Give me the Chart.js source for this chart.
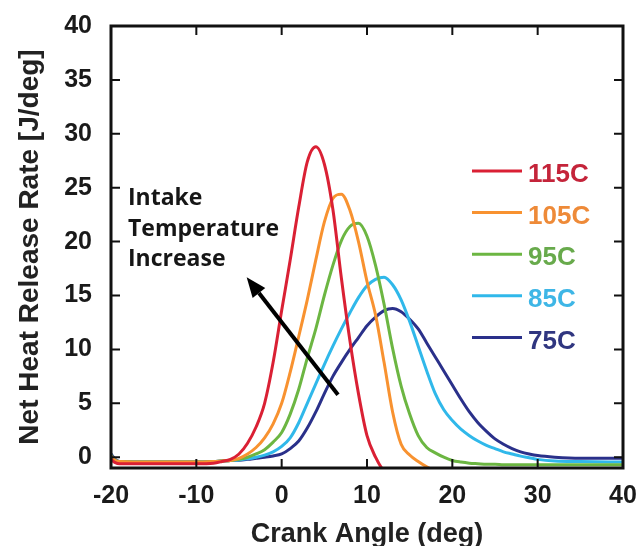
<!DOCTYPE html>
<html>
<head>
<meta charset="utf-8">
<script src="https://cdn.jsdelivr.net/npm/chart.js@4.4.1/dist/chart.umd.min.js"></script>
<style>
  html, body { margin: 0; padding: 0; background: #fff; }
  #wrap { width: 644px; height: 546px; }
</style>
</head>
<body>
<div id="wrap"><canvas id="hrrChart" width="644" height="546"></canvas></div>
<script>
// crank angle (deg), shared by all runs
const angles = [-20, -19.5, -19, -15, -10, -8, -7, -6, -5, -4, -3, -2, -1, 0, 1, 2, 3, 4, 5, 6, 7, 8, 9, 10,
    11, 12, 13, 14, 15, 16, 17, 18, 19, 20, 21, 22, 23, 24, 25, 26, 27, 28, 29, 30, 32, 35, 40];

// net heat release rate [J/deg] per intake temperature
const hrr115 = [-0.2, -0.5, -0.6, -0.6, -0.6, -0.55, -0.4, -0.2, 0.3, 1.3, 2.8, 5.0, 8.8, 13.6, 18.3, 23.2, 27.4, 28.8,
    27.2, 23.0, 16.6, 10.8, 5.9, 2.0, 0.0, -1.3, -1.8, -2, -2, -2, -2, -2, -2, -2, -2, -2, -2, -2, -2, -2, -2, -2,
    -2, -2, -2, -2, -2];
const hrr105 = [0.1, -0.3, -0.4, -0.45, -0.45, -0.4, -0.35, -0.3, -0.1, 0.3, 0.9, 1.8, 3.1, 5.0, 7.9, 11.2, 14.6, 18.3,
    21.8, 24.0, 24.4, 22.9, 20.0, 16.3, 13.2, 8.8, 4.2, 1.2, 0.2, -0.4, -0.9, -1.3, -1.5, -1.5, -1.5, -1.5, -1.5,
    -1.5, -1.5, -1.5, -1.5, -1.5, -1.5, -1.5, -1.5, -1.5, -1.5];
const hrr95 = [0.2, -0.3, -0.4, -0.45, -0.45, -0.4, -0.35, -0.3, -0.2, 0.0, 0.3, 0.7, 1.4, 2.3, 4.0, 6.3, 9.2, 11.9,
    15.0, 17.8, 20.1, 21.4, 21.7, 20.5, 17.8, 14.2, 10.1, 6.6, 4.0, 2.0, 0.9, 0.4, 0.0, -0.3, -0.45, -0.55, -0.6,
    -0.65, -0.65, -0.7, -0.7, -0.7, -0.7, -0.7, -0.7, -0.7, -0.7];
const hrr85 = [0.2, -0.3, -0.4, -0.45, -0.45, -0.4, -0.35, -0.3, -0.25, -0.15, 0.0, 0.2, 0.5, 1.0, 1.8, 3.2, 5.0, 6.8,
    8.6, 10.3, 11.9, 13.4, 14.8, 15.9, 16.5, 16.7, 16.0, 14.6, 12.6, 10.3, 8.0, 5.9, 4.4, 3.4, 2.6, 2.0, 1.5, 1.1,
    0.8, 0.5, 0.3, 0.1, -0.05, -0.2, -0.35, -0.4, -0.45];
const hrr75 = [0.3, -0.2, -0.4, -0.45, -0.45, -0.4, -0.35, -0.3, -0.28, -0.2, -0.1, 0.0, 0.12, 0.3, 0.8, 1.5, 2.7, 4.2,
    5.9, 7.5, 8.8, 10.0, 11.1, 12.2, 13.0, 13.6, 13.8, 13.5, 12.8, 11.9, 10.6, 9.3, 8.0, 6.7, 5.4, 4.2, 3.2, 2.4,
    1.7, 1.2, 0.8, 0.5, 0.3, 0.15, 0.0, -0.1, -0.1];

const seriesLabels = ['115C', '105C', '95C', '85C', '75C'];
const seriesValues = [hrr115, hrr105, hrr95, hrr85, hrr75];
const lineColors = ['rgb(218, 32, 52)', 'rgb(248, 146, 48)', 'rgb(108, 182, 66)', 'rgb(48, 184, 234)', 'rgb(42, 48, 138)'];
const textColors = ['rgb(196, 36, 58)', 'rgb(238, 138, 56)', 'rgb(104, 170, 76)', 'rgb(62, 182, 230)', 'rgb(48, 54, 128)'];

const xTicks = [-20, -10, 0, 10, 20, 30, 40];
const yTicks = [0, 5, 10, 15, 20, 25, 30, 35, 40];

const noteLines = ['Intake', 'Temperature', 'Increase'];
const arrowTail = {x: 6.6, y: 5.8};
const arrowHead = {x: -4.1, y: 16.7};

const tickFont = {family: "'Liberation Sans', Arial, sans-serif", size: 25, weight: 'bold'};
const titleFont = {family: "'Liberation Sans', Arial, sans-serif", size: 27, weight: 'bold', lineHeight: 1};

const extras = {
    id: 'extras',
    afterDatasetsDraw(chart) {
        const ctx = chart.ctx;
        const area = chart.chartArea;
        const xs = chart.scales.x;
        const ys = chart.scales.y;
        ctx.save();

        // note text
        ctx.fillStyle = '#161616';
        ctx.font = "bold 23px 'Open Sans', sans-serif";
        ctx.textAlign = 'left';
        ctx.textBaseline = 'alphabetic';
        noteLines.forEach((t, i) => {
            ctx.fillText(t, area.left + 17, area.top + 179 + i * 30.7);
        });

        // arrow
        const x1 = xs.getPixelForValue(arrowTail.x), y1 = ys.getPixelForValue(arrowTail.y);
        const x2 = xs.getPixelForValue(arrowHead.x), y2 = ys.getPixelForValue(arrowHead.y);
        const ang = Math.atan2(y2 - y1, x2 - x1);
        const headLen = 20, headHalf = 8;
        const bx = x2 - headLen * Math.cos(ang), by = y2 - headLen * Math.sin(ang);
        ctx.strokeStyle = '#000';
        ctx.lineWidth = 4;
        ctx.beginPath();
        ctx.moveTo(x1, y1);
        ctx.lineTo(bx, by);
        ctx.stroke();
        ctx.fillStyle = '#000';
        ctx.beginPath();
        ctx.moveTo(x2, y2);
        ctx.lineTo(bx + headHalf * Math.sin(ang), by - headHalf * Math.cos(ang));
        ctx.lineTo(bx - headHalf * Math.sin(ang), by + headHalf * Math.cos(ang));
        ctx.closePath();
        ctx.fill();

        // legend
        ctx.font = "bold 26px 'Liberation Sans', Arial, sans-serif";
        ctx.textBaseline = 'middle';
        seriesLabels.forEach((lab, i) => {
            const y = area.top + 145 + i * 41.6;
            ctx.strokeStyle = lineColors[i];
            ctx.lineWidth = 3;
            ctx.beginPath();
            ctx.moveTo(area.left + 361, y);
            ctx.lineTo(area.left + 411, y);
            ctx.stroke();
            ctx.fillStyle = textColors[i];
            ctx.fillText(lab, area.left + 417, y + 4);
        });
        ctx.restore();
    },
    afterDraw(chart) {
        const ctx = chart.ctx;
        const a = chart.chartArea;
        const xs = chart.scales.x;
        const ys = chart.scales.y;
        ctx.save();
        ctx.strokeStyle = '#111';
        ctx.lineWidth = 2;
        ctx.beginPath();
        xTicks.forEach(v => {
            const px = xs.getPixelForValue(v);
            ctx.moveTo(px, a.bottom); ctx.lineTo(px, a.bottom - 9);
            ctx.moveTo(px, a.top); ctx.lineTo(px, a.top + 9);
        });
        yTicks.forEach(v => {
            const py = ys.getPixelForValue(v);
            ctx.moveTo(a.left, py); ctx.lineTo(a.left + 9, py);
            ctx.moveTo(a.right, py); ctx.lineTo(a.right - 9, py);
        });
        ctx.stroke();
        ctx.lineWidth = 3;
        ctx.strokeRect(a.left, a.top, a.right - a.left, a.bottom - a.top);
        ctx.restore();
    }
};

const datasets = seriesLabels.map((lab, i) => ({
    label: lab,
    data: angles.map((a, k) => ({x: a, y: seriesValues[i][k]})),
    borderColor: lineColors[i],
    borderWidth: 3,
    pointRadius: 0,
    fill: false,
    cubicInterpolationMode: 'monotone'
}));

new Chart(document.getElementById('hrrChart'), {
    type: 'line',
    data: {datasets: datasets},
    plugins: [extras],
    options: {
        responsive: false,
        animation: false,
        devicePixelRatio: 1,
        layout: {padding: {top: 24, right: 21, left: 0, bottom: 0}},
        plugins: {legend: {display: false}, tooltip: {enabled: false}},
        scales: {
            x: {
                type: 'linear',
                min: -20,
                max: 40,
                afterBuildTicks: axis => { axis.ticks = xTicks.map(v => ({value: v})); },
                afterFit: axis => { axis.height = 78; },
                grid: {display: false},
                border: {display: false},
                ticks: {padding: 5, color: '#1a1a1a', font: tickFont, maxRotation: 0},
                title: {display: true, text: 'Crank Angle (deg)', color: '#222', font: titleFont, padding: {top: 0, bottom: -2}}
            },
            y: {
                type: 'linear',
                min: -1,
                max: 40,
                afterBuildTicks: axis => { axis.ticks = yTicks.map(v => ({value: v})); },
                afterFit: axis => { axis.width = 111; },
                grid: {display: false},
                border: {display: false},
                ticks: {padding: 11, color: '#1a1a1a', font: tickFont},
                title: {display: true, text: 'Net Heat Release Rate [J/deg]', color: '#222', font: {family: "'Liberation Sans', Arial, sans-serif", size: 28, weight: 'bold', lineHeight: 1}, padding: {top: 16, bottom: 0}}
            }
        }
    }
});
</script>
</body>
</html>
